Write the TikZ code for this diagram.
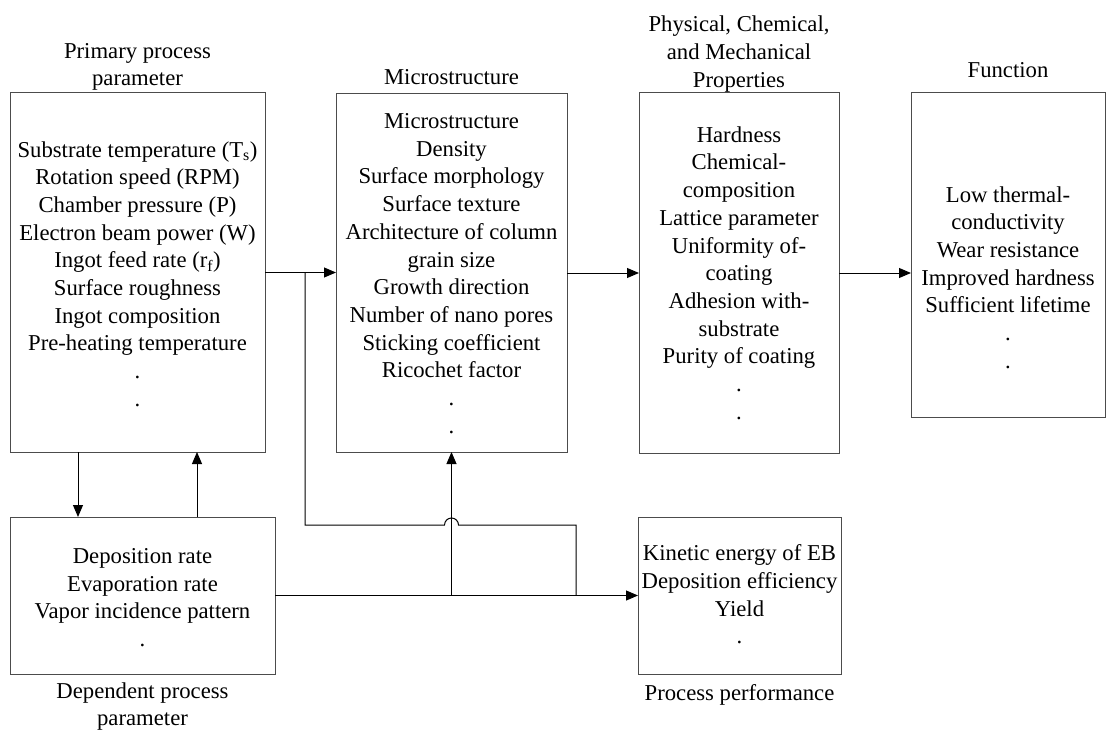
\documentclass[tikz,border=0pt]{standalone}
\usepackage{fontspec}
\setmainfont{Liberation Serif}
\usetikzlibrary{arrows.meta}
\begin{document}
\begin{tikzpicture}[x=1pt,y=-1pt,
  font=\fontsize{22.7}{27.7}\selectfont,
  box/.style={draw=black!70, line width=1pt, rectangle, inner sep=0pt, outer sep=0pt},
  txt/.style={align=center, inner sep=0pt},
  conn/.style={draw=black, line width=1pt},
  arr/.style={conn, -{Triangle[length=12pt,width=10pt]}}]
\useasboundingbox (0,0) rectangle (1107,730);
% boxes
\node[box, minimum width=255pt, minimum height=359pt] (b1) at (137.5,272.5) {};
\node[box, minimum width=231pt, minimum height=358pt] (b2) at (451.5,273) {};
\node[box, minimum width=200pt, minimum height=360pt] (b3) at (739,273) {};
\node[box, minimum width=194pt, minimum height=324pt] (b4) at (1008,255) {};
\node[box, minimum width=265pt, minimum height=157pt] (b5) at (142.5,595.5) {};
\node[box, minimum width=203pt, minimum height=157pt] (b6) at (739.5,595.5) {};
% box texts
\node[txt] (t1) at (137.5,274) {Substrate temperature (T\textsubscript{s})\\Rotation speed (RPM)\\Chamber pressure (P)\\Electron beam power (W)\\Ingot feed rate (r\textsubscript{f})\\Surface roughness\\Ingot composition\\Pre-heating temperature\\.\\.};
\node[txt] (t2) at (451.5,273.5) {Microstructure\\Density\\Surface morphology\\Surface texture\\Architecture of column\\grain size\\Growth direction\\Number of nano pores\\Sticking coefficient\\Ricochet factor\\.\\.};
\node[txt] (t3) at (739,273) {Hardness\\Chemical-\\composition\\Lattice parameter\\Uniformity of-\\coating\\Adhesion with-\\substrate\\Purity of coating\\.\\.};
\node[txt] (t4) at (1008,277.5) {Low thermal-\\conductivity\\Wear resistance\\Improved hardness\\Sufficient lifetime\\.\\.};
\node[txt] (t5) at (142.5,597.5) {Deposition rate\\Evaporation rate\\Vapor incidence pattern\\.};
\node[txt] (t6) at (739.5,594.5) {Kinetic energy of EB\\Deposition efficiency\\Yield\\.};
% titles
\node[txt] (l1) at (137.5,67) {Primary process\\parameter};
\node[txt] (l2) at (451.5,77) {Microstructure};
\node[txt] (l3) at (739,54) {Physical, Chemical,\\and Mechanical\\Properties};
\node[txt] (l4) at (1008,70) {Function};
\node[txt] (l5) at (142.5,706.5) {Dependent process\\parameter};
\node[txt] (l6) at (739.5,695) {Process performance};
% connectors
\draw[arr] (b1.east) -- (b1.east -| b2.west);
\draw[arr] (b2.east |- b3.west) -- (b3.west);
\draw[arr] (b3.east) -- (b3.east -| b4.west);
\draw[arr] ([xshift=-59.5pt]b1.south) -- ([xshift=-59.5pt]b1.south |- b5.north);
\draw[arr] ([xshift=54.5pt]b5.north) -- ([xshift=54.5pt]b5.north |- b1.south);
\draw[arr] (b5.east) -- (b5.east -| b6.west);
\coordinate (j1) at (b2.south |- b5.east);
\draw[arr] (j1) -- (b2.south);
\coordinate (br) at (305,273);
\coordinate (hop) at (b2.south |- 0,525);
\coordinate (drop) at (576,525);
\draw[conn] (br) -- (305,525) -- ([xshift=-7pt]hop) arc[start angle=180, end angle=0, radius=7pt] -- (drop) -- (drop |- b5.east);
\end{tikzpicture}
\end{document}
